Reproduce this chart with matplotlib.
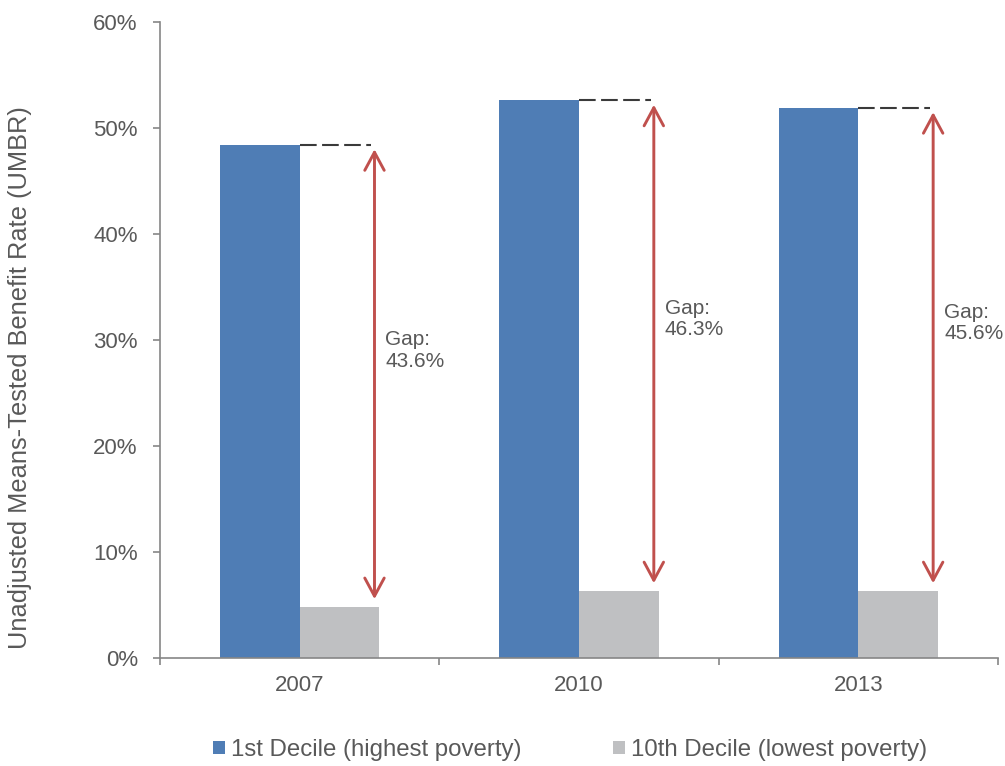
import matplotlib
matplotlib.use("Agg")
import matplotlib.pyplot as plt
from matplotlib.ticker import FuncFormatter, FixedLocator
import numpy as np

plt.rcParams['font.family'] = ['Liberation Sans', 'DejaVu Sans']

years = ['2007', '2010', '2013']
decile1 = [48.4, 52.6, 51.9]
decile10 = [4.8, 6.3, 6.3]
series_names = ['1st Decile (highest poverty)', '10th Decile (lowest poverty)']

blue = '#4f7db5'
gray = '#bfc0c2'
red = '#c0504d'
text_col = '#595959'
axis_col = '#868686'

fig = plt.figure(figsize=(10.05, 7.66), dpi=100)
ax = fig.add_axes([160/1005, 1-658/766, (998-160)/1005, (658-22)/766])

x = np.arange(len(years))
w = 80/280
ax.bar(x, decile1, width=-w, align='edge', color=blue, label=series_names[0])
ax.bar(x, decile10, width=w, align='edge', color=gray, label=series_names[1])

ax.set_xlim(-0.5, 2.493)
ax.set_ylim(0, 60)

for i in range(len(years)):
    xa = x[i] + 75/280
    top = decile1[i]
    bot = decile10[i]
    ax.plot([x[i], xa - 3/280], [top, top], color='#3a3a3a', lw=1.5,
            dashes=(8, 2.6), solid_capstyle='butt', dash_capstyle='butt')
    ax.annotate('', xy=(xa, top - 0.4), xytext=(xa, bot + 0.75),
                arrowprops=dict(arrowstyle='<->,head_length=1.3,head_width=0.7',
                                color=red, lw=2.1, shrinkA=0, shrinkB=0))
    gap = top - bot
    ax.text(x[i] + 86/280, bot + 0.555*gap, 'Gap:\n%.1f%%' % gap,
            fontsize=15, color=text_col, va='center', ha='left', linespacing=1.15)

ax.yaxis.set_major_locator(FixedLocator(np.arange(0, 61, 10)))
ax.yaxis.set_major_formatter(FuncFormatter(lambda v, p: '%d%%' % v))
ax.set_xticks(x)
ax.set_xticklabels(years)
ax.set_xticks([-0.5, 0.5, 1.5, 2.5], minor=True)
ax.tick_params(axis='x', which='major', length=0, pad=12, labelsize=16, colors=text_col)
ax.tick_params(axis='x', which='minor', length=5, color=axis_col, width=1.2, direction='out')
ax.tick_params(axis='y', length=5, color=axis_col, width=1.2, labelsize=16,
               colors=text_col, pad=11, direction='out')
for lab in ax.get_xticklabels() + ax.get_yticklabels():
    lab.set_color(text_col)

for s in ['top', 'right']:
    ax.spines[s].set_visible(False)
for s in ['left', 'bottom']:
    ax.spines[s].set_color(axis_col)
    ax.spines[s].set_linewidth(1.2)

fig.text(20/1005, 1-378/766, 'Unadjusted Means-Tested Benefit Rate (UMBR)', fontsize=18.3,
         color=text_col, rotation=90, ha='center', va='center')

leg = fig.legend(loc='center', bbox_to_anchor=(570/1005, 1-750/766), ncol=2,
                 frameon=False, fontsize=17.3, handlelength=0.5, handleheight=0.5,
                 handletextpad=0.25, columnspacing=3.8)
for t in leg.get_texts():
    t.set_color(text_col)

fig.savefig('out.png', dpi=100)
